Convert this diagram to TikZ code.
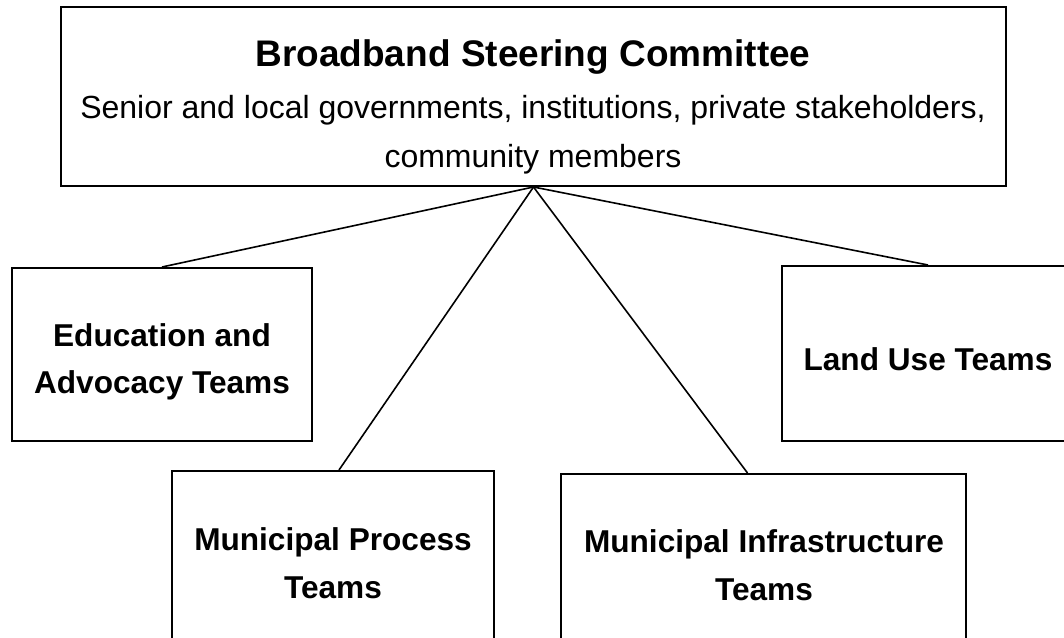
\documentclass[tikz,border=0pt]{standalone}
\usepackage{fontspec}
\setmainfont{Liberation Sans}
\usetikzlibrary{fit}

\begin{document}
\begin{tikzpicture}[x=0.5pt,y=-0.5pt,
  box/.style={draw,line width=1pt,inner sep=0pt},
  teamtext/.style={align=center,font=\fontsize{15.8}{23.75}\selectfont\bfseries},
  link/.style={line width=0.8pt}]
\useasboundingbox (0,0) rectangle (1064,637);
\node[box,fit={(61,7) (1006,186)}] (committee) {};
\node[box,fit={(12,268) (312,441)}] (edu) {};
\node[box,fit={(782,266) (1074,441)}] (land) {};
\node[box,fit={(172,471) (494,655)}] (proc) {};
\node[box,fit={(561,474) (966,657)}] (infra) {};
\node[anchor=base,font=\fontsize{18.5}{24}\selectfont\bfseries] (committeetitle) at (533,66) {Broadband Steering Committee};
\node[align=center,font=\fontsize{16}{24.5}\selectfont] (committeemembers) at (533,134.5) {Senior and local governments, institutions, private stakeholders,\\community members};
\node[teamtext] (edutext) at (162,362) {Education and\\Advocacy Teams};
\node[teamtext] (landtext) at (928,359) {Land Use Teams};
\node[teamtext] (proctext) at (333,563) {Municipal Process\\Teams};
\node[teamtext] (infratext) at (764,565) {Municipal Infrastructure\\Teams};
\draw[link] (committee.south) -- (edu.north);
\draw[link] (committee.south) -- ([xshift=3pt]proc.north);
\draw[link] (committee.south) -- ([xshift=-8pt]infra.north);
\draw[link] (committee.south) -- (land.north);
\end{tikzpicture}
\end{document}
